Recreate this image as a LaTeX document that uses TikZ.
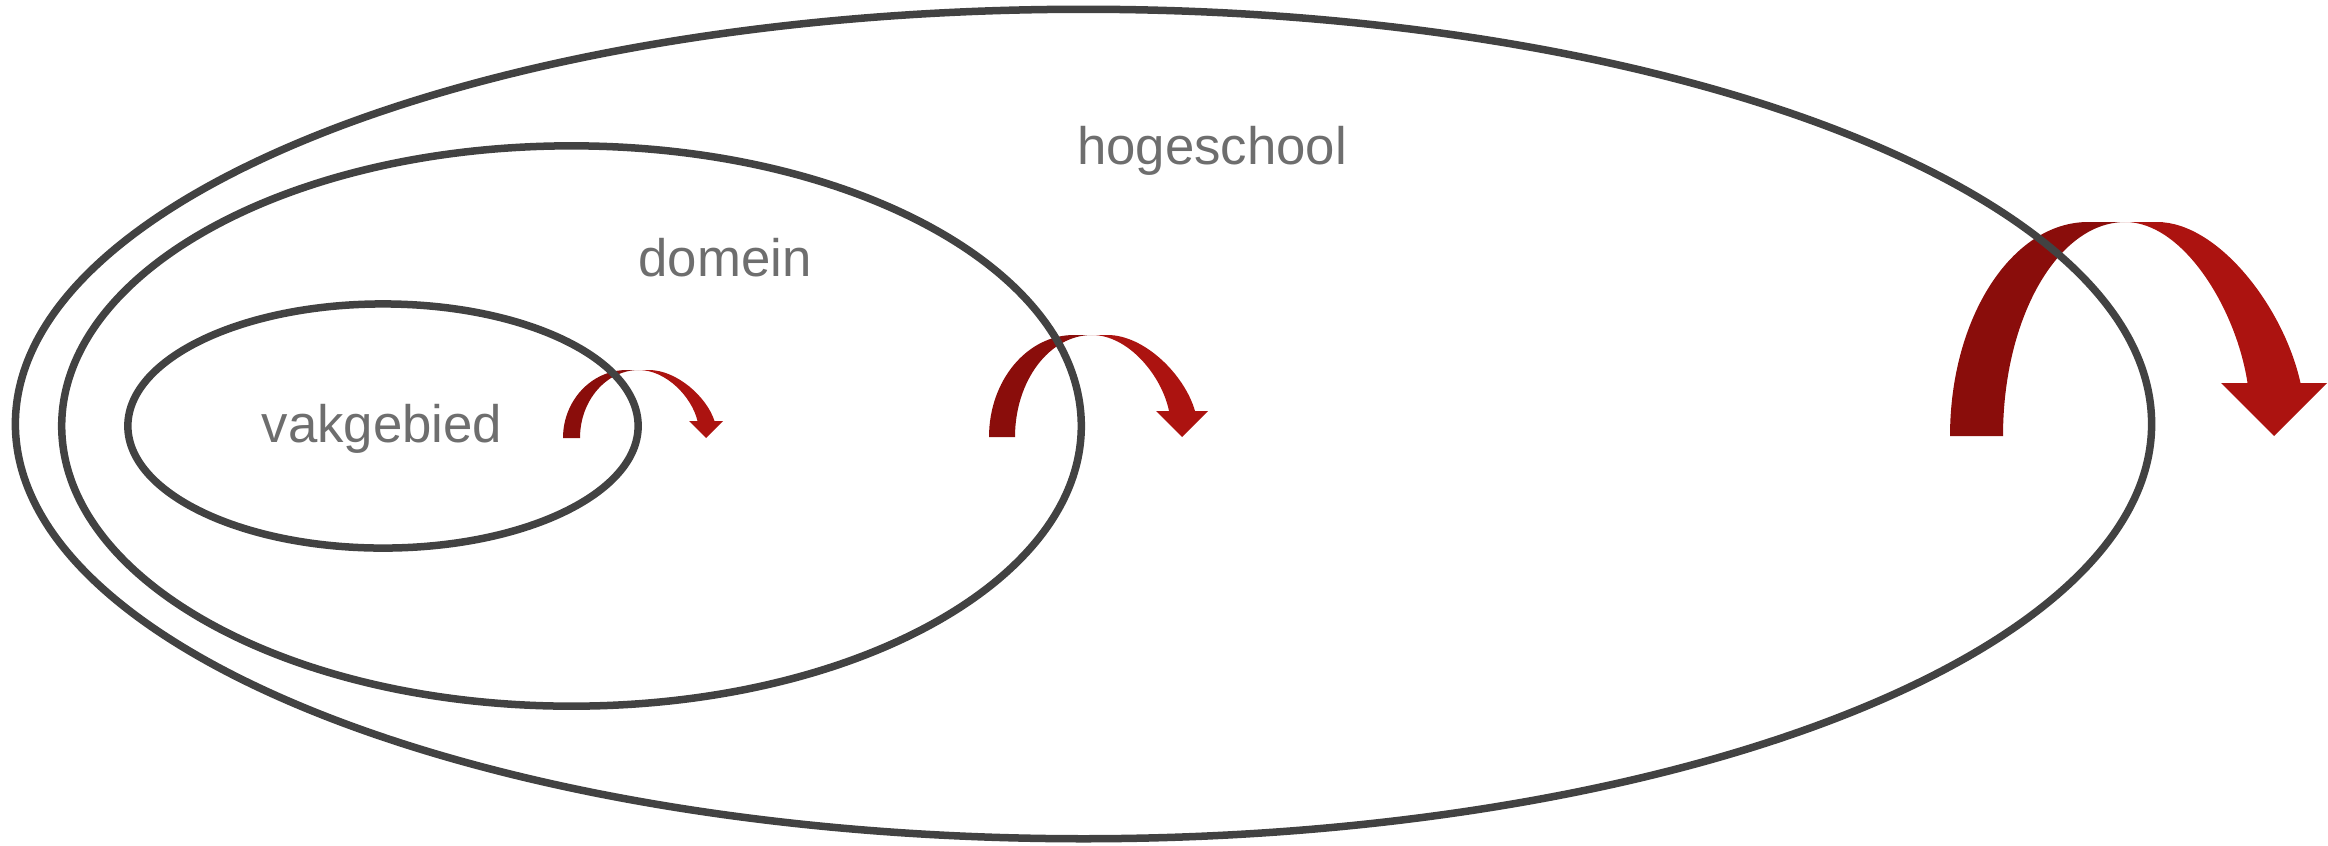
\documentclass[tikz,border=0pt]{standalone}
\usepackage{fontspec}
\setmainfont{Liberation Sans}
\usepackage{xcolor}
\usetikzlibrary{shapes.geometric}

\definecolor{ringgray}{HTML}{424242}
\definecolor{textgray}{HTML}{6E6E6E}
\definecolor{curldark}{HTML}{8A0D0B}
\definecolor{curlbright}{HTML}{AC1310}

\begin{document}
\begin{tikzpicture}[
    x=0.01cm, y=-0.01cm,
    ring/.style={draw=ringgray, line width=0.075cm, ellipse, inner sep=0pt, outer sep=0pt},
    tag/.style={font=\fontsize{15}{18}\selectfont, text=textgray, anchor=base, inner sep=0pt},
    % curved arrow: width, height, shaft width (origin = bottom left of shaft)
    pics/curl/.style n args={3}{code={
        \pgfmathsetmacro\curlm{#1/2-#3/4}
        \pgfmathsetmacro\curla{\curlm-0.7*#3}
        \pgfmathsetmacro\curlb{\curlm+0.6*#3}
        \pgfmathsetmacro\curlr{#1-#3/2}
        \pgfmathsetmacro\curldx{\curlr-\curlb}
        \pgfmathsetmacro\curldy{#2-#3}
        \pgfmathsetmacro\curli{#1-1.5*#3}
        \pgfmathsetmacro\curldi{\curli-\curlm}
        \fill[curldark] (0,0) .. controls (0,{-0.552*#2}) and ({0.448*\curla},-#2) .. (\curla,-#2)
            -- (\curlm,-#2) .. controls ({#3+0.448*(\curlm-#3)},-#2) and (#3,{-0.552*#2}) .. (#3,0) -- cycle;
        \fill[curlbright] (\curlm,-#2) -- (\curlb,-#2)
            .. controls ({\curlb+0.42*\curldx},-#2) and ({\curlr-0.12*\curldx},{-(#3+0.48*\curldy)}) .. (\curlr,-#3)
            -- (#1,-#3) -- ({#1-#3},0) -- ({#1-2*#3},-#3) -- (\curli,-#3)
            .. controls ({\curli-0.094*\curldi},{-(#3+0.467*\curldy)}) and ({\curlm+0.47*\curldi},-#2) .. (\curlm,-#2) -- cycle;
    }},
]
\useasboundingbox (0,0) rectangle (2328,845);

% arrows
\pic (curlVak) at (563,438) {curl={160}{68}{17}};
\pic (curlDomein) at (989,437) {curl={219}{102}{26}};
\pic (curlSchool) at (1950,436) {curl={377}{214}{53}};

% rings
\node[ring, minimum width=21.35cm, minimum height=8.29cm] (hogeschool) at (1083.5,424) {};
\node[ring, minimum width=10.19cm, minimum height=5.60cm] (domein) at (571.5,426) {};
\node[ring, minimum width=5.10cm, minimum height=2.44cm] (vakgebied) at (383,426) {};

% labels
\node[tag] (hogeschoolText) at (1212,164) {hogeschool};
\node[tag] (domeinText) at (725,276) {domein};
\node[tag] (vakgebiedText) at (382,442) {vakgebied};

\end{tikzpicture}
\end{document}
